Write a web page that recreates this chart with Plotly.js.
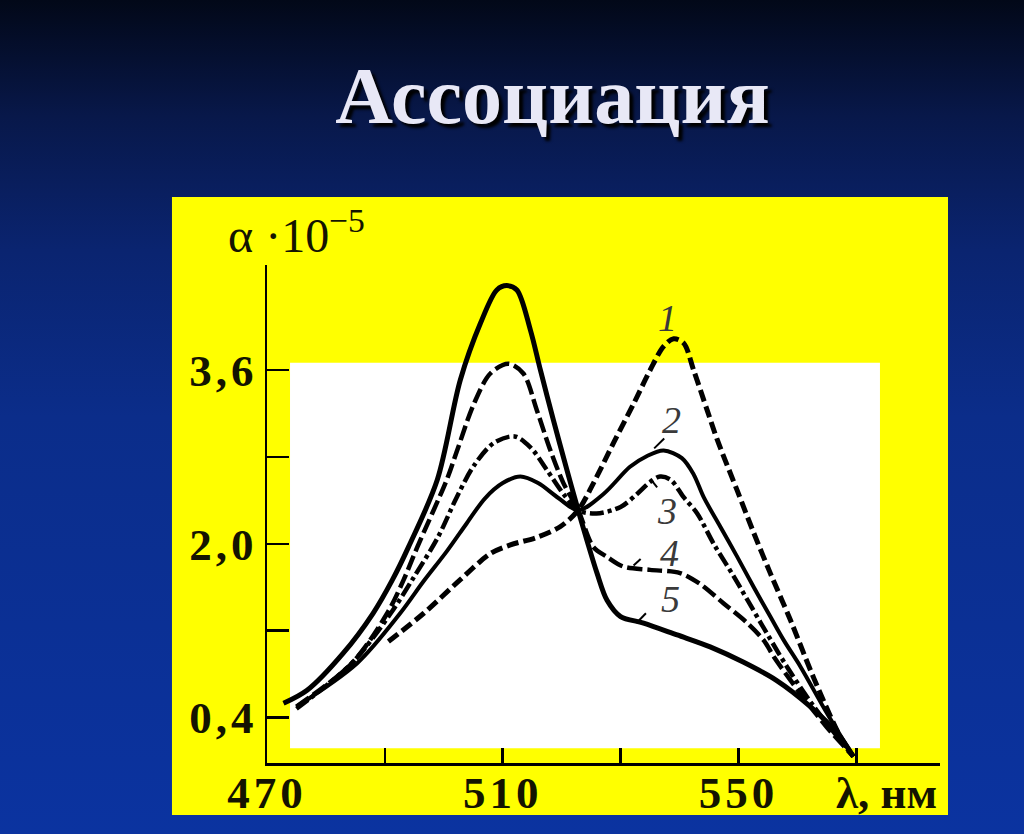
<!DOCTYPE html>
<html>
<head>
<meta charset="utf-8">
<script src="https://cdn.plot.ly/plotly-3.0.1.min.js"></script>
<style>
  html, body { margin: 0; padding: 0; width: 1024px; height: 834px; overflow: hidden; }
  body {
    background: linear-gradient(180deg, #020818 0%, #08184a 14%, #0a2470 30%, #0b2d8a 50%, #0b33a0 100%);
  }
  #chart { width: 1024px; height: 834px; }
  .xtick text, .ytick text { letter-spacing: 4px; }
</style>
</head>
<body>
<div id="chart"></div>
<script>
// ---- data (wavelength in nm, alpha * 1e-5) ----
const curve1X = [490.6, 496.6, 502.8, 507.9, 511.3, 515.8, 519.8, 522.8, 525.4, 528.8, 532.2, 535.0, 537.3, 539.0, 540.7, 542.4, 544.7, 546.4, 549.8, 552.6, 555.4, 558.8, 562.8, 567.3, 569.5];
const curve1Y = [1.10, 1.36, 1.67, 1.91, 1.99, 2.06, 2.16, 2.31, 2.56, 2.93, 3.29, 3.60, 3.82, 3.89, 3.85, 3.60, 3.23, 2.96, 2.49, 2.10, 1.73, 1.30, 0.76, 0.22, 0.04];

const curve2X = [475.0, 485.3, 492.6, 496.5, 500.5, 503.9, 507.0, 510.0, 513.0, 516.0, 519.5, 522.8, 527.1, 531.6, 534.5, 537.3, 540.4, 542.4, 544.1, 546.9, 549.8, 552.6, 555.4, 557.7, 560.5, 565.0, 569.5];
const curve2Y = [0.50, 0.90, 1.36, 1.65, 1.93, 2.19, 2.42, 2.56, 2.62, 2.56, 2.42, 2.31, 2.46, 2.71, 2.81, 2.86, 2.79, 2.64, 2.43, 2.16, 1.88, 1.60, 1.33, 1.11, 0.87, 0.44, 0.04];

const curve3X = [475.0, 484.4, 491.0, 495.0, 499.0, 502.2, 505.1, 508.5, 512.0, 514.7, 517.5, 520.3, 522.8, 525.9, 530.0, 532.8, 535.0, 536.7, 538.5, 540.7, 543.0, 545.8, 549.2, 553.8, 558.2, 562.8, 569.5];
const curve3Y = [0.48, 0.90, 1.36, 1.70, 2.06, 2.43, 2.72, 2.93, 2.99, 2.89, 2.68, 2.46, 2.31, 2.28, 2.34, 2.46, 2.57, 2.62, 2.59, 2.43, 2.28, 2.00, 1.70, 1.27, 0.87, 0.50, 0.04];

const curve4X = [475.0, 484.4, 490.4, 493.2, 495.5, 500.5, 502.2, 505.1, 507.9, 511.0, 513.5, 515.8, 518.1, 520.3, 522.8, 525.4, 527.7, 530.5, 535.0, 540.1, 543.5, 547.5, 551.5, 554.3, 556.0, 560.5, 565.0, 569.5];
const curve4Y = [0.50, 0.90, 1.36, 1.67, 1.97, 2.59, 2.85, 3.29, 3.57, 3.66, 3.57, 3.23, 2.86, 2.56, 2.31, 1.97, 1.88, 1.79, 1.76, 1.73, 1.63, 1.45, 1.27, 1.11, 0.96, 0.62, 0.31, 0.04];

const curve5X = [472.8, 476.8, 482.9, 488.0, 491.3, 494.0, 498.9, 502.8, 506.2, 509.0, 510.7, 512.4, 514.7, 516.4, 518.6, 520.9, 522.8, 524.3, 526.0, 527.7, 530.0, 533.9, 539.6, 545.2, 550.8, 556.5, 562.2, 566.7, 569.5];
const curve5Y = [0.53, 0.65, 0.99, 1.36, 1.67, 1.97, 2.59, 3.51, 4.03, 4.34, 4.38, 4.34, 3.97, 3.60, 3.14, 2.68, 2.31, 2.03, 1.73, 1.48, 1.33, 1.27, 1.16, 1.05, 0.91, 0.74, 0.50, 0.26, 0.04];

const xTickVals = [470, 510, 550];
const xTickText = ['470', '510', '550'];
const xMinorTicks = [490, 530, 570];
const yTickVals = [0.4, 2.0, 3.6];
const yTickText = ['0,4', '2,0', '3,6'];
const yMinorTicks = [1.2, 2.8];

const curveLabels = ['1', '2', '3', '4', '5'];
const labelX = [538.0, 538.6, 537.9, 538.3, 538.4];
const labelY = [4.08, 3.14, 2.30, 1.92, 1.49];

const titleText = 'Ассоциация';
const yTitleText = 'α ·10<sup>−5</sup>';
const xUnitText = 'λ, нм';

// ---- traces ----
function tr(x, y, width, dash) {
  return { x: x, y: y, type: 'scatter', mode: 'lines', hoverinfo: 'skip', showlegend: false,
           line: { color: '#000000', width: width, dash: dash, shape: 'spline', smoothing: 0.9 } };
}
const data = [
  tr(curve1X, curve1Y, 5, '12px,5px'),
  tr(curve2X, curve2Y, 4, 'solid'),
  tr(curve3X, curve3Y, 4.5, '14px,4px,4px,4px'),
  tr(curve4X, curve4Y, 4.5, '15px,5px'),
  tr(curve5X, curve5Y, 5, 'solid')
];

const serif = 'Liberation Serif, Times New Roman, serif';
const tickFont = { family: serif, size: 45, color: '#141400', weight: 'bold' };

const annotations = curveLabels.map((t, i) => ({
  x: labelX[i], y: labelY[i], xref: 'x', yref: 'y', text: t, showarrow: false,
  xanchor: 'center', yanchor: 'middle',
  font: { family: serif, size: 38, color: '#3a3a3a', style: 'italic' }
}));
annotations.push({
  x: -0.0609, y: 1.066, xref: 'paper', yref: 'paper', text: yTitleText, showarrow: false,
  xanchor: 'left', yanchor: 'middle', font: { family: serif, size: 48, color: '#141400' }
});
annotations.push({
  x: 575.2, y: -0.060, xref: 'x', yref: 'paper', text: xUnitText, showarrow: false,
  xanchor: 'center', yanchor: 'middle', font: tickFont
});

const leaders = [
  [535.7, 2.88, 537.4, 2.97],
  [535.2, 2.59, 536.2, 2.52],
  [532.2, 1.80, 533.4, 1.86],
  [532.7, 1.27, 534.3, 1.36]
];
const shapes = [
  { type: 'rect', xref: 'paper', yref: 'paper', x0: -0.1412, x1: 1.0119, y0: -0.1044, y1: 1.1365,
    fillcolor: '#ffff00', line: { width: 0 }, layer: 'below' },
  { type: 'rect', xref: 'paper', yref: 'paper', x0: 0.0342, x1: 0.9108, y0: 0.0295, y1: 0.8038,
    fillcolor: '#ffffff', line: { width: 0 }, layer: 'below' }
].concat(leaders.map(l => ({ type: 'line', xref: 'x', yref: 'y', x0: l[0], y0: l[1], x1: l[2], y1: l[3],
    line: { color: '#000', width: 2 } })));

const layout = {
  width: 1024, height: 834, autosize: false,
  margin: { l: 267, r: 84, t: 265, b: 71, pad: 0 },
  paper_bgcolor: 'rgba(0,0,0,0)', plot_bgcolor: 'rgba(0,0,0,0)',
  title: {
    text: titleText, xref: 'container', yref: 'container', x: 0.5396, y: 0.886,
    xanchor: 'center', yanchor: 'middle',
    font: { family: serif, size: 80, color: '#e8e8f6', weight: 'bold', shadow: '4px 4px 3px #000000' }
  },
  xaxis: {
    range: [470, 584.2], showgrid: false, zeroline: false, showline: true, linecolor: '#000', linewidth: 2.5,
    ticks: 'inside', ticklen: 15, tickwidth: 2.5, tickcolor: '#000',
    tickmode: 'array', tickvals: xTickVals, ticktext: xTickText, tickfont: tickFont, ticklabelstandoff: -12,
    minor: { tickmode: 'array', tickvals: xMinorTicks, ticks: 'inside', ticklen: 15, tickwidth: 2.5, tickcolor: '#000', showgrid: false }
  },
  yaxis: {
    range: [-0.02, 4.57], showgrid: false, zeroline: false, showline: true, linecolor: '#000', linewidth: 2.5,
    ticks: 'inside', ticklen: 22, tickwidth: 2.5, tickcolor: '#000',
    tickmode: 'array', tickvals: yTickVals, ticktext: yTickText, tickfont: tickFont, ticklabelstandoff: -2,
    minor: { tickmode: 'array', tickvals: yMinorTicks, ticks: 'inside', ticklen: 22, tickwidth: 2.5, tickcolor: '#000', showgrid: false }
  },
  shapes: shapes,
  annotations: annotations,
  hovermode: false
};

Plotly.newPlot('chart', data, layout, { staticPlot: true, displayModeBar: false });
</script>
</body>
</html>
